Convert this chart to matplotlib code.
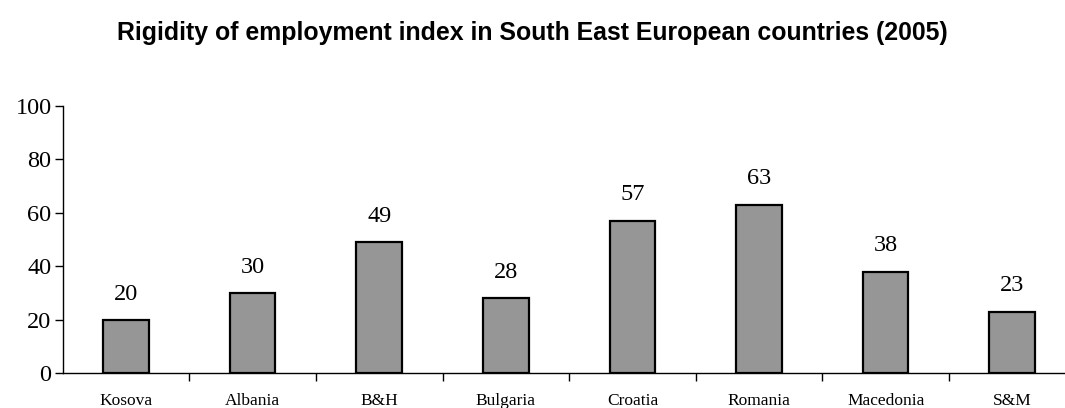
import matplotlib
matplotlib.use("Agg")
from matplotlib import pyplot as plt
import numpy as np

countries = ['Kosova', 'Albania', 'B&H', 'Bulgaria', 'Croatia', 'Romania', 'Macedonia', 'S&M']
rigidity = [20, 30, 49, 28, 57, 63, 38, 23]
y_ticks = [0, 20, 40, 60, 80, 100]

serif = ['Liberation Serif', 'DejaVu Serif']

fig = plt.figure(figsize=(10.65, 4.08), dpi=100)
ax = fig.add_axes([0.0589, 0.085, 0.951, 0.656])

x = np.arange(len(countries))
ax.bar(x, rigidity, width=0.36, color='#969696', edgecolor='black', linewidth=1.6)

for xi, v in zip(x, rigidity):
    ax.annotate(str(v), (xi, v), xytext=(0, 11), textcoords='offset points',
                ha='center', va='bottom', fontsize=17.5, family=serif)

ax.set_xlim(-0.5, len(countries) - 0.5)
ax.set_ylim(0, 100)
ax.set_yticks(y_ticks)
ax.set_yticklabels([str(t) for t in y_ticks], family=serif, fontsize=17.5)

# labels centred under bars, tick marks on the category borders
ax.set_xticks(x)
ax.set_xticklabels(countries, family=serif, fontsize=12.5)
ax.tick_params(axis='x', length=0, pad=14)
ax.set_xticks(np.arange(len(countries)) + 0.5, minor=True)
ax.tick_params(axis='x', which='minor', length=6, width=1, direction='out')
ax.tick_params(axis='y', length=6, width=1, direction='out', pad=2)

ax.spines['top'].set_visible(False)
ax.spines['right'].set_visible(False)
ax.spines['left'].set_linewidth(1)
ax.spines['bottom'].set_linewidth(1)

fig.text(0.5, 0.918, 'Rigidity of employment index in South East European countries (2005)',
         ha='center', va='center', fontsize=17.9, fontweight='bold',
         family=['Liberation Sans', 'DejaVu Sans'])

fig.savefig('out.png', dpi=100)
